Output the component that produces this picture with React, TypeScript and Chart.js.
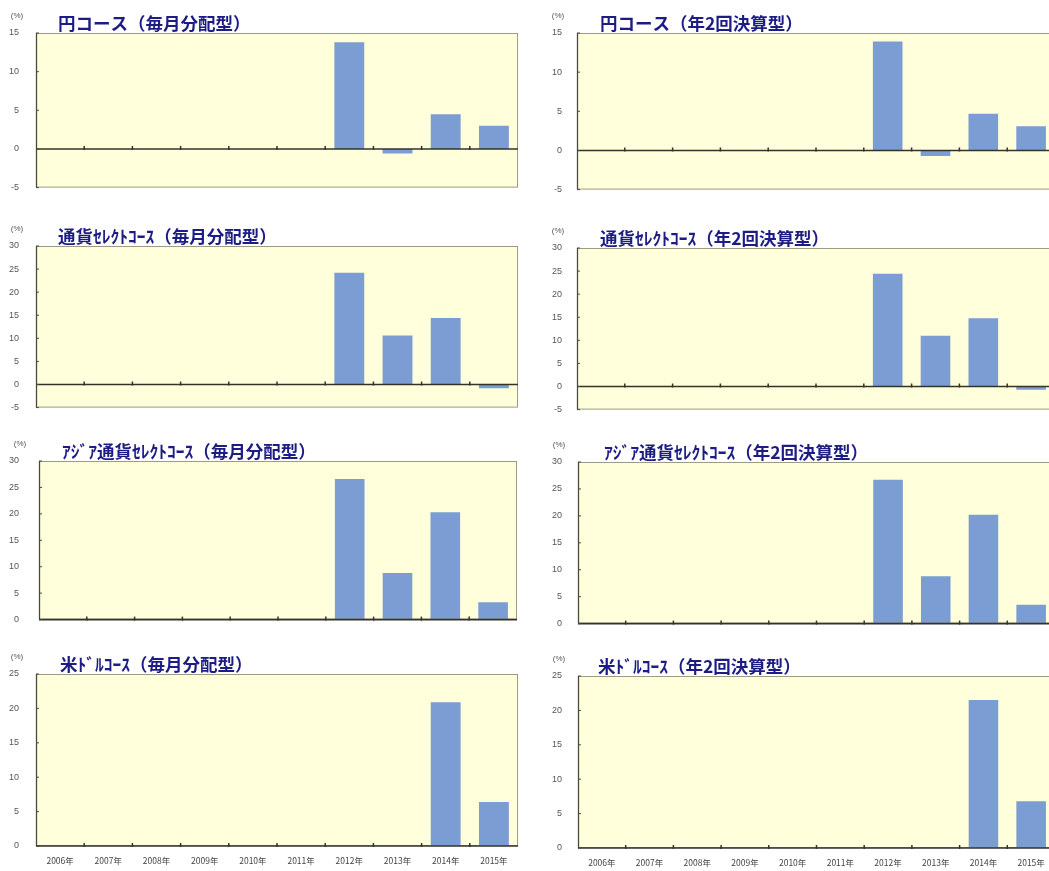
import React, { useEffect, useRef } from 'react';
import { Chart, registerables } from 'chart.js';

Chart.register(...registerables);

// ---- data ----
const years = ['2006年', '2007年', '2008年', '2009年', '2010年', '2011年', '2012年', '2013年', '2014年', '2015年'];

const yenMonthly = [null, null, null, null, null, null, 13.8, -0.6, 4.5, 3.0];
const yenSemiannual = [null, null, null, null, null, null, 13.9, -0.7, 4.7, 3.1];
const selectMonthly = [null, null, null, null, null, null, 24.2, 10.6, 14.4, -0.8];
const selectSemiannual = [null, null, null, null, null, null, 24.4, 11.0, 14.8, -0.7];
const asiaMonthly = [null, null, null, null, null, null, 26.6, 8.8, 20.3, 3.3];
const asiaSemiannual = [null, null, null, null, null, null, 26.7, 8.8, 20.2, 3.5];
const usdMonthly = [null, null, null, null, null, null, null, null, 20.9, 6.4];
const usdSemiannual = [null, null, null, null, null, null, null, null, 21.5, 6.8];

const titles = [
  '円コース（毎月分配型）',
  '円コース（年2回決算型）',
  '通貨ｾﾚｸﾄｺｰｽ（毎月分配型）',
  '通貨ｾﾚｸﾄｺｰｽ（年2回決算型）',
  'ｱｼﾞｱ通貨ｾﾚｸﾄｺｰｽ（毎月分配型）',
  'ｱｼﾞｱ通貨ｾﾚｸﾄｺｰｽ（年2回決算型）',
  '米ﾄﾞﾙｺｰｽ（毎月分配型）',
  '米ﾄﾞﾙｺｰｽ（年2回決算型）',
];
const unitLabel = '(%)';

const yMins = [-5, -5, -5, -5, 0, 0, 0, 0];
const yMaxs = [15, 15, 30, 30, 30, 30, 25, 25];

const seriesList = [
  yenMonthly, yenSemiannual,
  selectMonthly, selectSemiannual,
  asiaMonthly, asiaSemiannual,
  usdMonthly, usdSemiannual,
];

// ---- styles ----
const BG = '#FFFFDC';
const BAR = '#7B9DD3';
const TITLE_COLOR = '#1C1C84';

// ---- layout (canvas placement) ----
type Layout = {
  x: number; y: number; w: number; h: number;
  axisW: number; padTop: number; padRight: number; xAxisH: number;
  showX: boolean; titleDx: number; labelPad: number;
};

const layouts: Layout[] = [
  { x: 0, y: 0, w: 525, h: 210, axisW: 36, padTop: 33, padRight: 7, xAxisH: 7, showX: false, titleDx: 22, labelPad: 17 },
  { x: 525, y: 0, w: 540, h: 210, axisW: 52, padTop: 33, padRight: 10, xAxisH: 7, showX: false, titleDx: 23, labelPad: 15 },
  { x: 0, y: 210, w: 525, h: 220, axisW: 36, padTop: 36, padRight: 7, xAxisH: 13, showX: false, titleDx: 22, labelPad: 17 },
  { x: 525, y: 210, w: 540, h: 220, axisW: 52, padTop: 38, padRight: 10, xAxisH: 10, showX: false, titleDx: 23, labelPad: 15 },
  { x: 0, y: 430, w: 525, h: 215, axisW: 39, padTop: 31, padRight: 8, xAxisH: 13, showX: false, titleDx: 23, labelPad: 20 },
  { x: 525, y: 430, w: 540, h: 215, axisW: 53, padTop: 32, padRight: 10, xAxisH: 10, showX: false, titleDx: 26, labelPad: 16 },
  { x: 0, y: 645, w: 525, h: 226, axisW: 36, padTop: 29, padRight: 7, xAxisH: 25, showX: true, titleDx: 24, labelPad: 17 },
  { x: 525, y: 645, w: 540, h: 226, axisW: 53, padTop: 31, padRight: 10, xAxisH: 23, showX: true, titleDx: 20, labelPad: 16 },
];

const decorPlugin = {
  id: 'decor',
  beforeDraw(chart: any) {
    const { ctx, chartArea: a } = chart;
    ctx.save();
    ctx.fillStyle = BG;
    ctx.fillRect(a.left, a.top, a.right - a.left, a.bottom - a.top);
    ctx.restore();
  },
  afterDatasetsDraw(chart: any, _args: any, opts: any) {
    const { ctx, chartArea: a, scales } = chart;
    const xs = scales.x;
    const ys = scales.y;
    const line = (x1: number, y1: number, x2: number, y2: number) => {
      ctx.beginPath();
      ctx.moveTo(x1, y1);
      ctx.lineTo(x2, y2);
      ctx.stroke();
    };
    ctx.save();
    // frame
    ctx.strokeStyle = '#9C9C84';
    ctx.lineWidth = 1;
    ctx.strokeRect(a.left + 0.5, a.top + 0.5, a.right - a.left - 1, a.bottom - a.top - 1);
    // left axis
    ctx.strokeStyle = '#4A4A40';
    ctx.lineWidth = 1.3;
    line(a.left + 0.5, a.top, a.left + 0.5, a.bottom);
    // zero line
    const y0 = ys.getPixelForValue(0);
    ctx.strokeStyle = '#33332A';
    ctx.lineWidth = 1.6;
    line(a.left, y0, a.right, y0);
    // category boundary ticks on zero line
    ctx.lineWidth = 1.5;
    for (let i = 1; i < xs.ticks.length; i++) {
      const bx = (xs.getPixelForValue(i - 1) + xs.getPixelForValue(i)) / 2;
      line(bx, y0 - 3, bx, y0 + 1);
    }
    // inward y ticks
    ctx.lineWidth = 1;
    ctx.strokeStyle = '#4A4A40';
    ys.ticks.forEach((t: any) => {
      const py = ys.getPixelForValue(t.value);
      line(a.left, py, a.left + 3, py);
    });
    // title
    ctx.fillStyle = TITLE_COLOR;
    ctx.font = 'bold 17.5px "Noto Sans CJK JP", sans-serif';
    ctx.textBaseline = 'middle';
    ctx.textAlign = 'left';
    ctx.fillText(opts.title, a.left + opts.titleDx, a.top - 10);
    // unit
    ctx.fillStyle = '#555';
    ctx.font = '8px "Liberation Sans", Arial, sans-serif';
    ctx.textAlign = 'center';
    ctx.fillText(unitLabel, a.left - 19, a.top - 17);
    ctx.restore();
  },
};

function Panel({ idx }: { idx: number }) {
  const ref = useRef<HTMLCanvasElement | null>(null);
  const L = layouts[idx];
  useEffect(() => {
    if (!ref.current) return;
    const chart = new Chart(ref.current, {
      type: 'bar',
      data: {
        labels: years,
        datasets: [
          {
            data: seriesList[idx] as any,
            backgroundColor: BAR,
            borderWidth: 0,
            barPercentage: 0.62,
            categoryPercentage: 1,
          },
        ],
      },
      options: {
        responsive: false,
        animation: false,
        layout: { padding: { top: L.padTop, right: L.padRight, left: 0, bottom: 0 } },
        plugins: {
          legend: { display: false },
          tooltip: { enabled: false },
          title: { display: false },
          decor: { title: titles[idx], titleDx: L.titleDx },
        } as any,
        scales: {
          x: {
            type: 'category',
            grid: { display: false, drawTicks: false },
            border: { display: false },
            ticks: {
              display: L.showX,
              autoSkip: false,
              maxRotation: 0,
              padding: 10,
              color: '#444',
              font: { size: 8.5, family: '"Noto Sans CJK JP", "Liberation Sans", sans-serif' },
            },
            afterFit: (s: any) => { s.height = L.xAxisH; },
          },
          y: {
            min: yMins[idx],
            max: yMaxs[idx],
            grid: { display: false, drawTicks: false },
            border: { display: false },
            ticks: {
              stepSize: 5,
              padding: L.labelPad,
              color: '#555',
              font: { size: 9, family: '"Liberation Sans", Arial, sans-serif' },
            },
            afterFit: (s: any) => { s.width = L.axisW; },
          },
        },
      },
      plugins: [decorPlugin],
    });
    return () => chart.destroy();
  }, [idx]);
  return (
    <canvas
      ref={ref}
      width={L.w}
      height={L.h}
      style={{ position: 'absolute', left: L.x, top: L.y, width: L.w, height: L.h }}
    />
  );
}

export default function App() {
  return (
    <div
      style={{
        position: 'fixed',
        left: 0,
        top: 0,
        width: 1049,
        height: 871,
        overflow: 'hidden',
        background: '#ffffff',
      }}
    >
      {layouts.map((_, i) => (
        <Panel key={i} idx={i} />
      ))}
    </div>
  );
}
